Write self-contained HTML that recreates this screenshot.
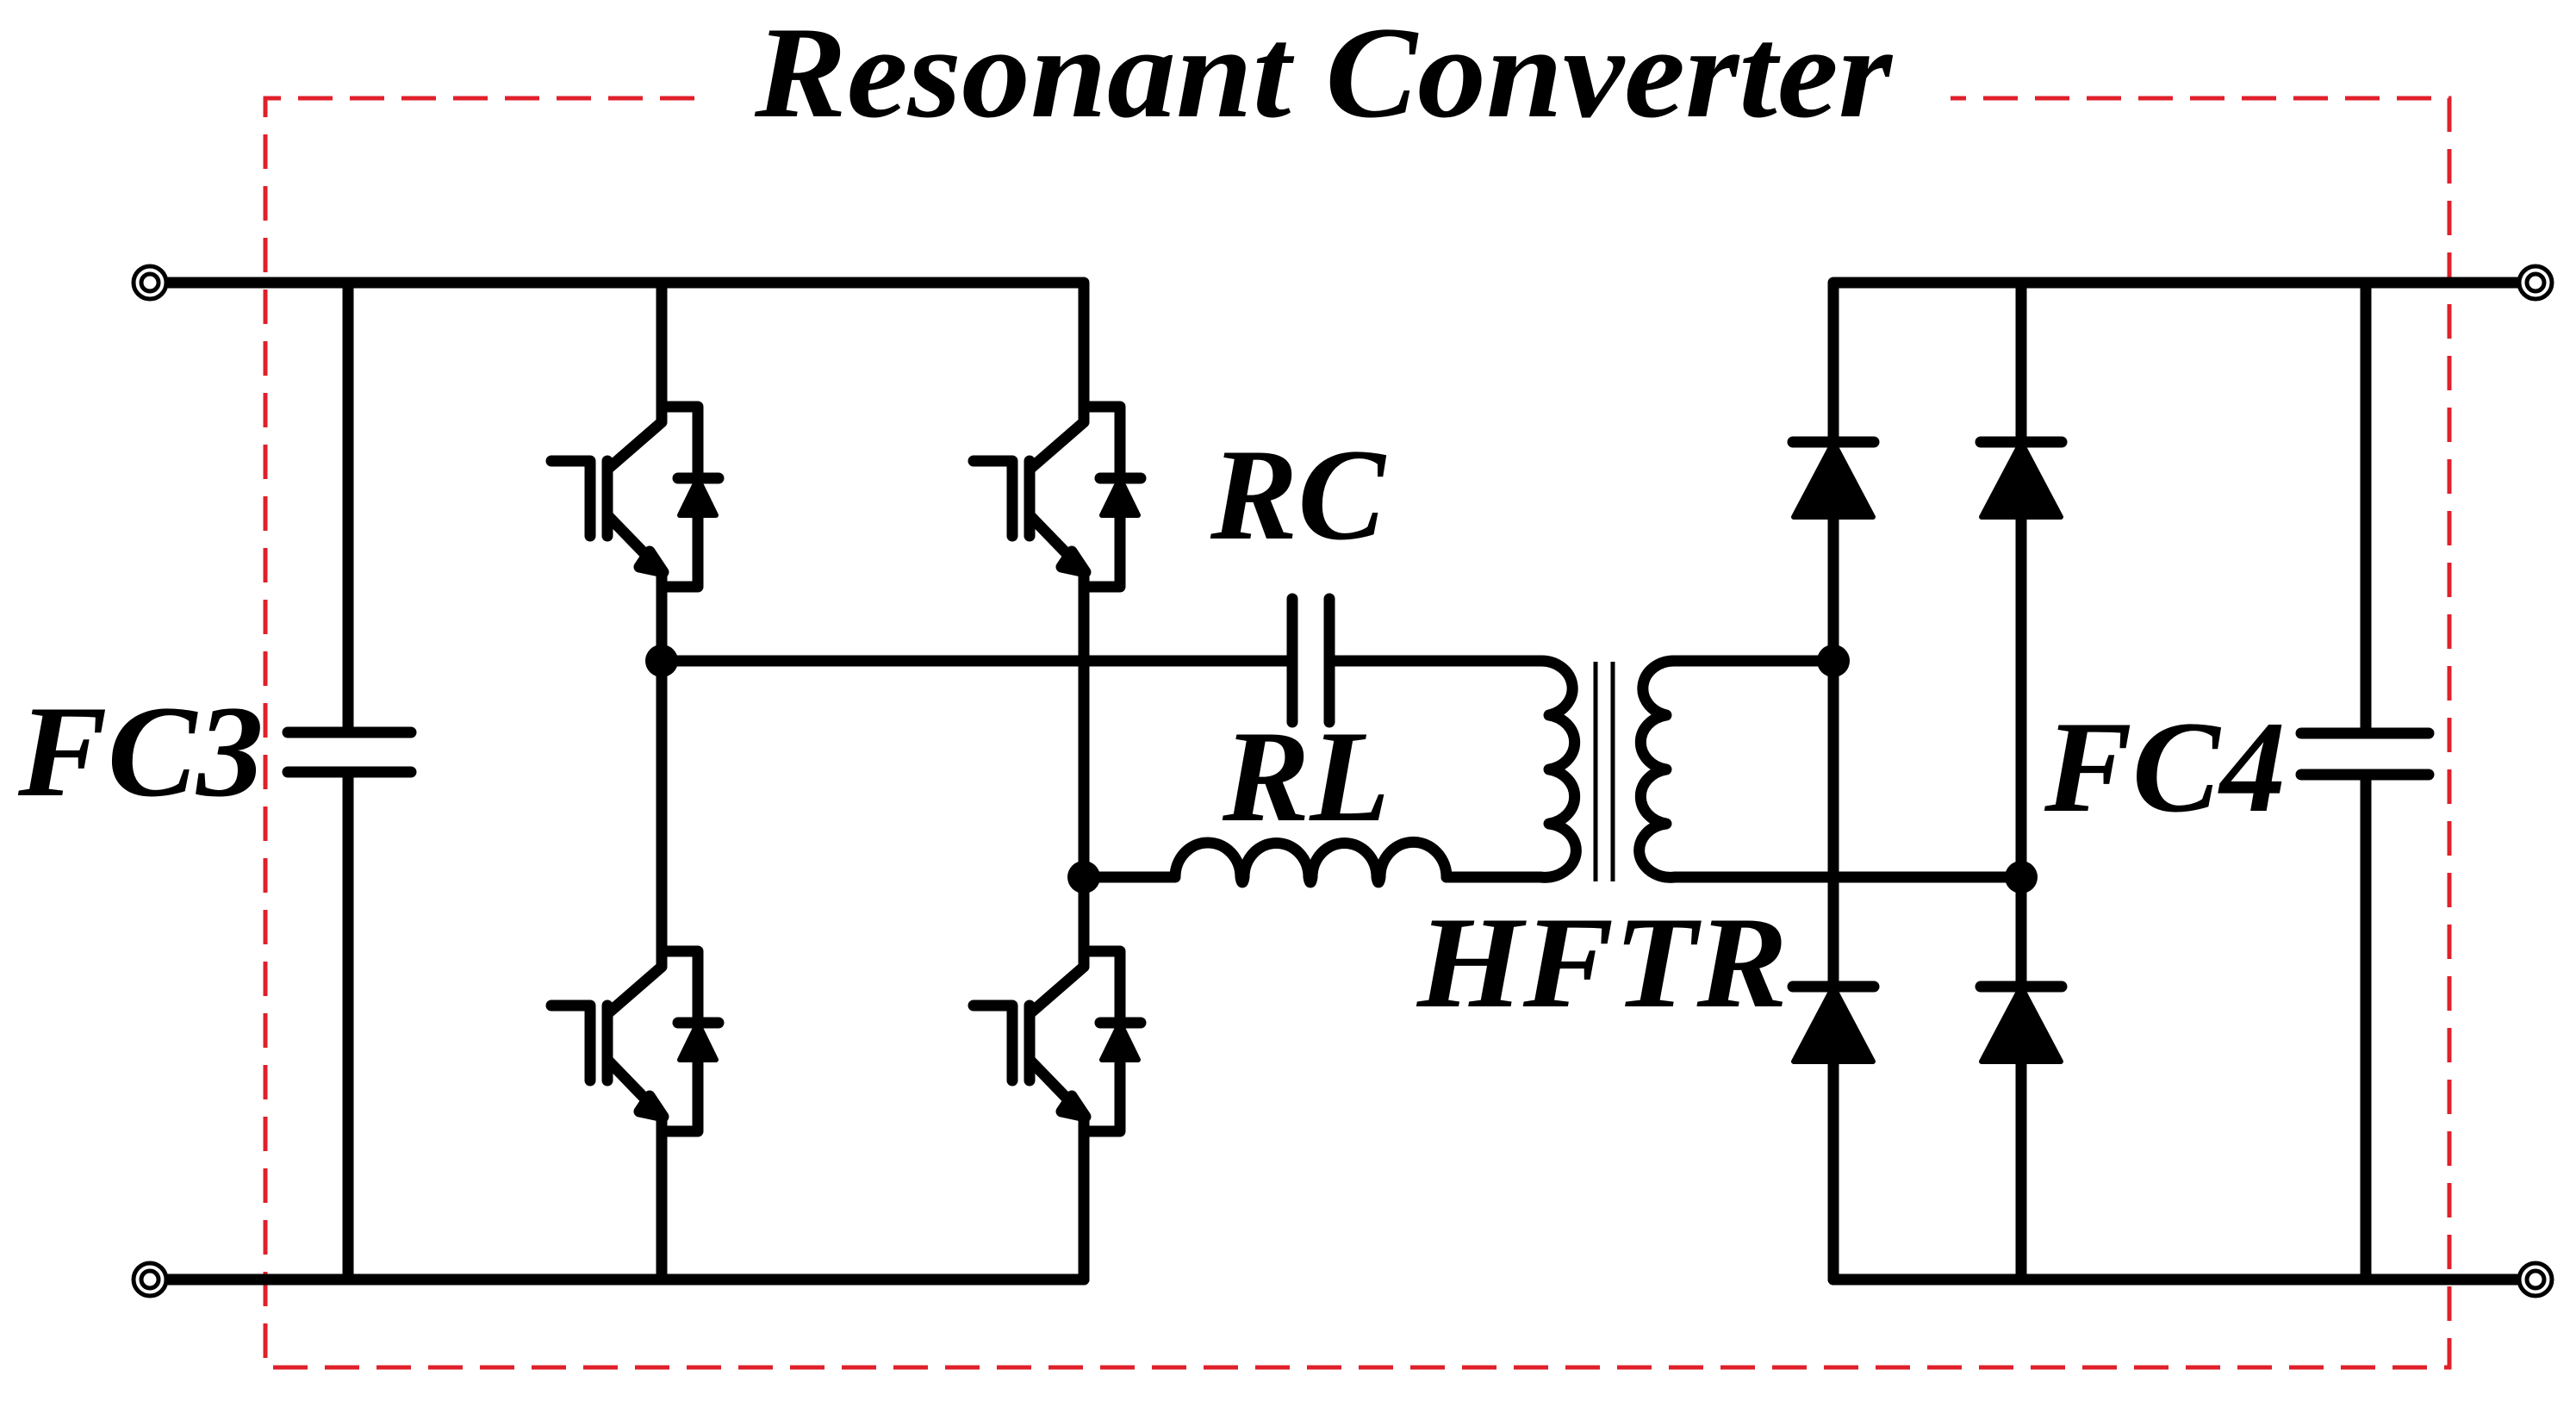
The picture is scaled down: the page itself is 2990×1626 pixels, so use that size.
<!DOCTYPE html>
<html><head><meta charset="utf-8"><style>html,body{margin:0;padding:0;background:#fff}svg{display:block}</style></head>
<body>
<svg width="2990" height="1626" viewBox="0 0 2990 1626" xmlns="http://www.w3.org/2000/svg">
<defs>
<g id="igbt" fill="none" stroke="#000" stroke-width="13" stroke-linecap="round" stroke-linejoin="round">
  <path d="M0,0 V18 L-61,71"/>
  <path d="M-63,63 V150"/>
  <path d="M-128,63 H-83 V150"/>
  <path d="M-61,128 L0,191"/>
  <path d="M-14,168 L2,192 L-26,186 Z" fill="#000"/>
  <path d="M0,0 H42 V209 H0 V191"/>
  <path d="M19,83 H66" />
  <path d="M42,83 L21,126 H63 Z" fill="#000" stroke-width="6"/>
</g>
<g id="diode">
  <path d="M-47,0 H47" stroke="#000" stroke-width="13" stroke-linecap="round"/>
  <path d="M0,0 L-46,87 H46 Z" fill="#000" stroke="#000" stroke-width="6" stroke-linejoin="round"/>
</g>
</defs>

<!-- red dashed box -->
<path d="M806,114 H308 V1587 H2843 V114 H2264" fill="none" stroke="#e0202a" stroke-width="5" stroke-dasharray="40,20"/>

<g fill="none" stroke="#000" stroke-width="13" stroke-linecap="round" stroke-linejoin="round">
  <path d="M190,328 H1258 V472"/>
  <path d="M190,1485 H1258"/>
  <path d="M768,328 V472"/>
  <path d="M404,328 V850 M404,896 V1485"/>
  <path d="M334,850 H477 M334,896 H477"/>
  <path d="M768,663 V1104 M768,1295 V1485"/>
  <path d="M1258,663 V1104 M1258,1295 V1485"/>
  <path d="M768,767 H1500 M1500,695 V838 M1543,695 V838"/>
  <path d="M1543,767 H1788 A36,32 0 0 1 1798,830 A36,32 0 0 1 1798,893 A36,32 0 0 1 1798,956 A36,31 0 0 1 1788,1018 H1679"/>
  <path d="M1258,1018 H1364 A37,39 0 0 1 1440,1018 Q1442,1030 1444,1018 A37,39 0 0 1 1519,1018 Q1521,1030 1523,1018 A37,39 0 0 1 1598,1018 Q1600,1030 1602,1018 A37,39 0 0 1 1679,1018"/>
  <path d="M2128,767 H1944 A36,32 0 0 0 1934,830 A36,32 0 0 0 1934,893 A36,32 0 0 0 1934,956 A36,31 0 0 0 1944,1018 H2346"/>
  <path d="M2128,1485 V328 H2928"/>
  <path d="M2128,1485 H2928"/>
  <path d="M2346,328 V1485"/>
  <path d="M2746,328 V851 M2746,899 V1485"/>
  <path d="M2671,851 H2819 M2671,899 H2819"/>
</g>
<path d="M1852,768 V1023 M1872,768 V1023" stroke="#000" stroke-width="5"/>

<use href="#igbt" x="768" y="472"/>
<use href="#igbt" x="768" y="1104"/>
<use href="#igbt" x="1258" y="472"/>
<use href="#igbt" x="1258" y="1104"/>

<use href="#diode" x="2128" y="513"/>
<use href="#diode" x="2346" y="513"/>
<use href="#diode" x="2128" y="1145"/>
<use href="#diode" x="2346" y="1145"/>

<g fill="#000">
  <circle cx="768" cy="767" r="19"/>
  <circle cx="1258" cy="1018" r="19"/>
  <circle cx="2128" cy="767" r="19"/>
  <circle cx="2346" cy="1018" r="19"/>
</g>
<g fill="#fff" stroke="#000">
  <circle cx="174" cy="328" r="19" stroke-width="5"/><circle cx="174" cy="328" r="10" stroke-width="5"/>
  <circle cx="174" cy="1485" r="19" stroke-width="5"/><circle cx="174" cy="1485" r="10" stroke-width="5"/>
  <circle cx="2943" cy="328" r="19" stroke-width="5"/><circle cx="2943" cy="328" r="10" stroke-width="5"/>
  <circle cx="2943" cy="1485" r="19" stroke-width="5"/><circle cx="2943" cy="1485" r="10" stroke-width="5"/>
</g>

<g font-family="'Liberation Serif', serif" font-weight="bold" font-style="italic" font-size="152" fill="#000">
  <text x="876" y="135" textLength="1320" lengthAdjust="spacingAndGlyphs">Resonant Converter</text>
  <text x="1405" y="625">RC</text>
  <text x="1419" y="952">RL</text>
  <text x="21" y="923" textLength="285" lengthAdjust="spacingAndGlyphs">FC3</text>
  <text x="2373" y="941" textLength="280" lengthAdjust="spacingAndGlyphs">FC4</text>
  <text x="1645" y="1168" textLength="430" lengthAdjust="spacingAndGlyphs">HFTR</text>
</g>
</svg>
</body></html>
